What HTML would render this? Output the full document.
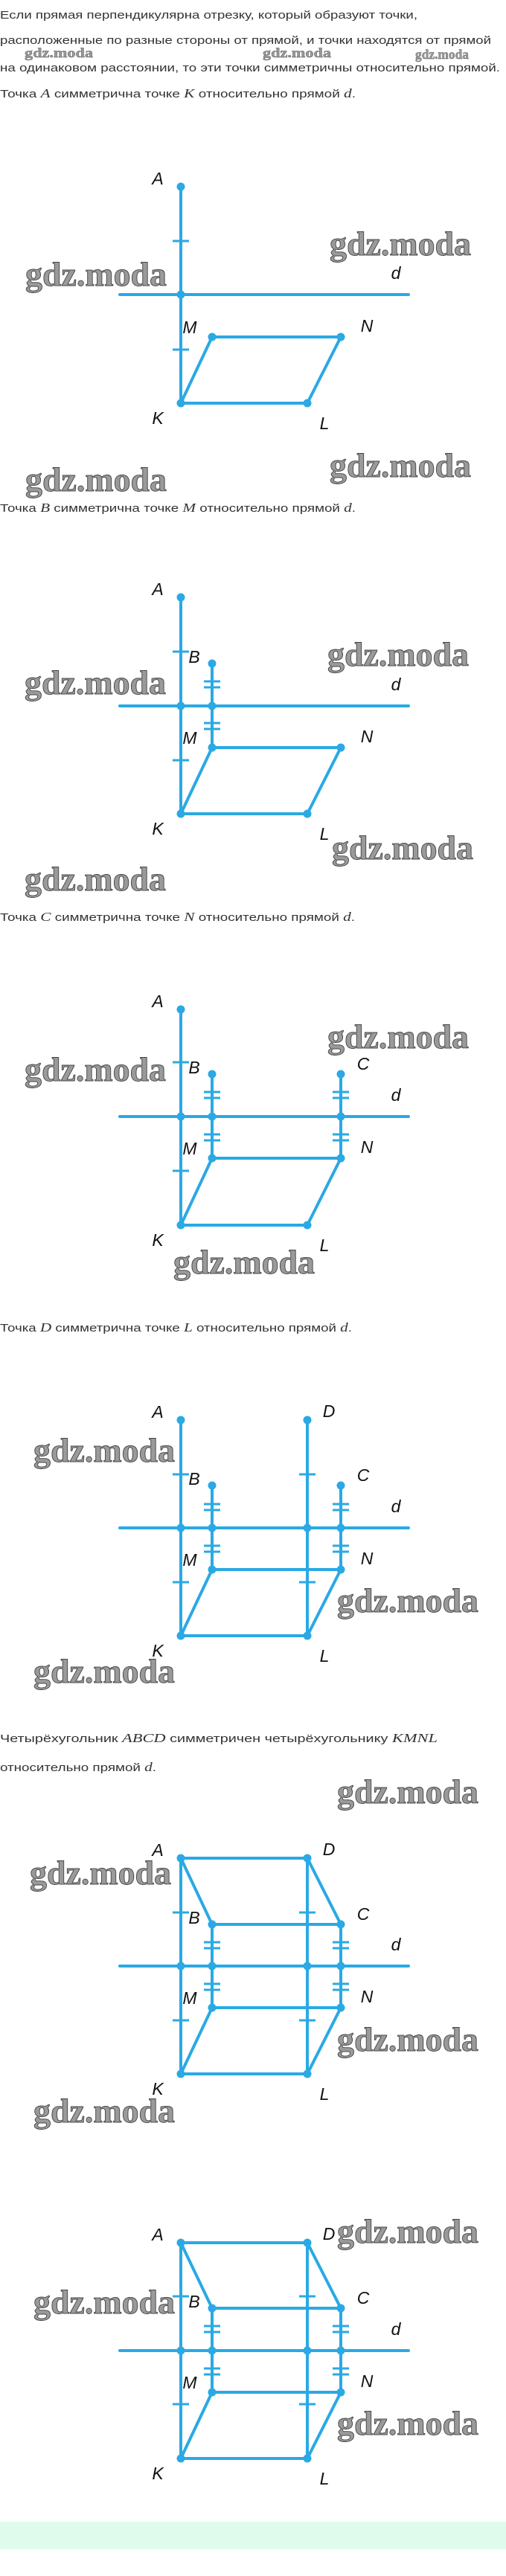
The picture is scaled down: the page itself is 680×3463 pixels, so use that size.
<!DOCTYPE html>
<html><head><meta charset="utf-8"><style>
html,body{margin:0;padding:0;background:#fff;}
svg{display:block}
.t{font-family:"Liberation Sans",sans-serif;font-size:15px;fill:#333}
.m{font-family:"Liberation Serif",serif;font-style:italic;font-size:17px}
.l{font-family:"Liberation Sans",sans-serif;font-style:italic;font-size:23px;fill:#111;text-anchor:middle}
.w{font-family:"Liberation Serif",serif;font-weight:bold;font-size:46px;fill:#9a9a9a;stroke:#444;stroke-width:0.9}
.ws{font-family:"Liberation Serif",serif;font-weight:bold;font-size:18px;fill:#9a9a9a;stroke:#555;stroke-width:0.4}
.s{stroke:#2aa9e4;stroke-width:4;stroke-linecap:round;fill:none}
.k{stroke:#2aa9e4;stroke-width:3;fill:none}
.dot{fill:#2aa9e4}
</style></head><body>
<svg width="680" height="3463" viewBox="0 0 680 3463" xmlns="http://www.w3.org/2000/svg">
<!-- intro text -->
<text class="t" x="0" y="25" textLength="561" lengthAdjust="spacingAndGlyphs">Если прямая перпендикулярна отрезку, который образуют точки,</text>
<text class="t" x="0" y="59" textLength="660" lengthAdjust="spacingAndGlyphs">расположенные по разные стороны от прямой, и точки находятся от прямой</text>
<text class="t" x="0" y="96" textLength="672" lengthAdjust="spacingAndGlyphs">на одинаковом расстоянии, то эти точки симметричны относительно прямой.</text>
<text class="ws" x="33" y="77" textLength="92" lengthAdjust="spacingAndGlyphs">gdz.moda</text>
<text class="ws" x="353" y="77" textLength="92" lengthAdjust="spacingAndGlyphs">gdz.moda</text>
<text class="ws" x="558" y="79" font-size="14" textLength="72" lengthAdjust="spacingAndGlyphs">gdz.moda</text>
<text class="t" x="0" y="131" textLength="478" lengthAdjust="spacingAndGlyphs">Точка <tspan class="m">A</tspan> симметрична точке <tspan class="m">K</tspan> относительно прямой <tspan class="m">d</tspan>.</text>

<!-- Diagram 1 -->
<g>
<line class="s" x1="161" y1="396" x2="549" y2="396"/>
<line class="s" x1="243" y1="251" x2="243" y2="542"/>
<polyline class="s" points="285,453 458,453 413,542 243,542 285,453"/>
<line class="k" x1="232" y1="324" x2="254" y2="324"/><line class="k" x1="232" y1="470" x2="254" y2="470"/>
<circle class="dot" cx="243" cy="251" r="5.5"/><circle class="dot" cx="243" cy="396" r="5.5"/>
<circle class="dot" cx="285" cy="453" r="5.5"/><circle class="dot" cx="458" cy="453" r="5.5"/>
<circle class="dot" cx="243" cy="542" r="5.5"/><circle class="dot" cx="413" cy="542" r="5.5"/>
<text class="l" x="212" y="248">A</text><text class="l" x="532" y="375">d</text>
<text class="l" x="255" y="448">M</text><text class="l" x="493" y="446">N</text>
<text class="l" x="212" y="570">K</text><text class="l" x="436" y="577">L</text>
<text class="w" x="443" y="343" textLength="190" lengthAdjust="spacingAndGlyphs">gdz.moda</text>
<text class="w" x="34" y="384" textLength="190" lengthAdjust="spacingAndGlyphs">gdz.moda</text>
<text class="w" x="443" y="641" textLength="190" lengthAdjust="spacingAndGlyphs">gdz.moda</text>
<text class="w" x="34" y="660" textLength="190" lengthAdjust="spacingAndGlyphs">gdz.moda</text>
</g>
<text class="t" x="0" y="688" textLength="478" lengthAdjust="spacingAndGlyphs">Точка <tspan class="m">B</tspan> симметрична точке <tspan class="m">M</tspan> относительно прямой <tspan class="m">d</tspan>.</text>

<!-- Diagram 2 -->
<g>
<line class="s" x1="161" y1="949" x2="549" y2="949"/>
<line class="s" x1="243" y1="803" x2="243" y2="1094"/>
<line class="s" x1="285" y1="892" x2="285" y2="1005"/>
<polyline class="s" points="285,1005 458,1005 413,1094 243,1094 285,1005"/>
<line class="k" x1="232" y1="876" x2="254" y2="876"/><line class="k" x1="232" y1="1022" x2="254" y2="1022"/>
<line class="k" x1="274" y1="916" x2="296" y2="916"/><line class="k" x1="274" y1="924" x2="296" y2="924"/>
<line class="k" x1="274" y1="972" x2="296" y2="972"/><line class="k" x1="274" y1="980" x2="296" y2="980"/>
<circle class="dot" cx="243" cy="803" r="5.5"/><circle class="dot" cx="285" cy="892" r="5.5"/>
<circle class="dot" cx="243" cy="949" r="5.5"/><circle class="dot" cx="285" cy="949" r="5.5"/>
<circle class="dot" cx="285" cy="1005" r="5.5"/><circle class="dot" cx="458" cy="1005" r="5.5"/>
<circle class="dot" cx="243" cy="1094" r="5.5"/><circle class="dot" cx="413" cy="1094" r="5.5"/>
<text class="l" x="212" y="800">A</text><text class="l" x="261" y="891">B</text><text class="l" x="532" y="928">d</text>
<text class="l" x="255" y="1000">M</text><text class="l" x="493" y="998">N</text>
<text class="l" x="212" y="1122">K</text><text class="l" x="436" y="1129">L</text>
<text class="w" x="440" y="895" textLength="190" lengthAdjust="spacingAndGlyphs">gdz.moda</text>
<text class="w" x="33" y="933" textLength="190" lengthAdjust="spacingAndGlyphs">gdz.moda</text>
<text class="w" x="446" y="1155" textLength="190" lengthAdjust="spacingAndGlyphs">gdz.moda</text>
<text class="w" x="33" y="1197" textLength="190" lengthAdjust="spacingAndGlyphs">gdz.moda</text>
</g>
<text class="t" x="0" y="1238" textLength="477" lengthAdjust="spacingAndGlyphs">Точка <tspan class="m">C</tspan> симметрична точке <tspan class="m">N</tspan> относительно прямой <tspan class="m">d</tspan>.</text>

<!-- Diagram 3 -->
<g>
<line class="s" x1="161" y1="1501" x2="549" y2="1501"/>
<line class="s" x1="243" y1="1357" x2="243" y2="1647"/>
<line class="s" x1="285" y1="1444" x2="285" y2="1557"/>
<line class="s" x1="458" y1="1444" x2="458" y2="1557"/>
<polyline class="s" points="285,1557 458,1557 413,1647 243,1647 285,1557"/>
<line class="k" x1="232" y1="1428" x2="254" y2="1428"/><line class="k" x1="232" y1="1574" x2="254" y2="1574"/>
<line class="k" x1="274" y1="1468" x2="296" y2="1468"/><line class="k" x1="274" y1="1476" x2="296" y2="1476"/>
<line class="k" x1="274" y1="1525" x2="296" y2="1525"/><line class="k" x1="274" y1="1533" x2="296" y2="1533"/>
<line class="k" x1="447" y1="1468" x2="469" y2="1468"/><line class="k" x1="447" y1="1476" x2="469" y2="1476"/>
<line class="k" x1="447" y1="1525" x2="469" y2="1525"/><line class="k" x1="447" y1="1533" x2="469" y2="1533"/>
<circle class="dot" cx="243" cy="1357" r="5.5"/><circle class="dot" cx="285" cy="1444" r="5.5"/><circle class="dot" cx="458" cy="1444" r="5.5"/>
<circle class="dot" cx="243" cy="1501" r="5.5"/><circle class="dot" cx="285" cy="1501" r="5.5"/><circle class="dot" cx="458" cy="1501" r="5.5"/>
<circle class="dot" cx="285" cy="1557" r="5.5"/><circle class="dot" cx="458" cy="1557" r="5.5"/>
<circle class="dot" cx="243" cy="1647" r="5.5"/><circle class="dot" cx="413" cy="1647" r="5.5"/>
<text class="l" x="212" y="1354">A</text><text class="l" x="261" y="1443">B</text><text class="l" x="488" y="1438">C</text><text class="l" x="532" y="1480">d</text>
<text class="l" x="255" y="1552">M</text><text class="l" x="493" y="1550">N</text>
<text class="l" x="212" y="1675">K</text><text class="l" x="436" y="1682">L</text>
<text class="w" x="440" y="1409" textLength="190" lengthAdjust="spacingAndGlyphs">gdz.moda</text>
<text class="w" x="33" y="1453" textLength="190" lengthAdjust="spacingAndGlyphs">gdz.moda</text>
<text class="w" x="233" y="1712" textLength="190" lengthAdjust="spacingAndGlyphs">gdz.moda</text>
</g>
<text class="t" x="0" y="1790" textLength="473" lengthAdjust="spacingAndGlyphs">Точка <tspan class="m">D</tspan> симметрична точке <tspan class="m">L</tspan> относительно прямой <tspan class="m">d</tspan>.</text>

<!-- Diagram 4 -->
<g>
<line class="s" x1="161" y1="2054" x2="549" y2="2054"/>
<line class="s" x1="243" y1="1909" x2="243" y2="2199"/>
<line class="s" x1="413" y1="1909" x2="413" y2="2199"/>
<line class="s" x1="285" y1="1997" x2="285" y2="2110"/>
<line class="s" x1="458" y1="1997" x2="458" y2="2110"/>
<polyline class="s" points="285,2110 458,2110 413,2199 243,2199 285,2110"/>
<line class="k" x1="232" y1="1982" x2="254" y2="1982"/><line class="k" x1="232" y1="2127" x2="254" y2="2127"/>
<line class="k" x1="402" y1="1982" x2="424" y2="1982"/><line class="k" x1="402" y1="2127" x2="424" y2="2127"/>
<line class="k" x1="274" y1="2022" x2="296" y2="2022"/><line class="k" x1="274" y1="2030" x2="296" y2="2030"/>
<line class="k" x1="274" y1="2078" x2="296" y2="2078"/><line class="k" x1="274" y1="2086" x2="296" y2="2086"/>
<line class="k" x1="447" y1="2022" x2="469" y2="2022"/><line class="k" x1="447" y1="2030" x2="469" y2="2030"/>
<line class="k" x1="447" y1="2078" x2="469" y2="2078"/><line class="k" x1="447" y1="2086" x2="469" y2="2086"/>
<circle class="dot" cx="243" cy="1909" r="5.5"/><circle class="dot" cx="413" cy="1909" r="5.5"/>
<circle class="dot" cx="285" cy="1997" r="5.5"/><circle class="dot" cx="458" cy="1997" r="5.5"/>
<circle class="dot" cx="243" cy="2054" r="5.5"/><circle class="dot" cx="285" cy="2054" r="5.5"/><circle class="dot" cx="413" cy="2054" r="5.5"/><circle class="dot" cx="458" cy="2054" r="5.5"/>
<circle class="dot" cx="285" cy="2110" r="5.5"/><circle class="dot" cx="458" cy="2110" r="5.5"/>
<circle class="dot" cx="243" cy="2199" r="5.5"/><circle class="dot" cx="413" cy="2199" r="5.5"/>
<text class="l" x="212" y="1906">A</text><text class="l" x="442" y="1905">D</text><text class="l" x="261" y="1996">B</text><text class="l" x="488" y="1991">C</text><text class="l" x="532" y="2033">d</text>
<text class="l" x="255" y="2105">M</text><text class="l" x="493" y="2103">N</text>
<text class="l" x="212" y="2227">K</text><text class="l" x="436" y="2234">L</text>
<text class="w" x="45" y="1965" textLength="190" lengthAdjust="spacingAndGlyphs">gdz.moda</text>
<text class="w" x="453" y="2167" textLength="190" lengthAdjust="spacingAndGlyphs">gdz.moda</text>
<text class="w" x="45" y="2262" textLength="190" lengthAdjust="spacingAndGlyphs">gdz.moda</text>
</g>
<text class="t" x="0" y="2342" textLength="588" lengthAdjust="spacingAndGlyphs">Четырёхугольник <tspan class="m">ABCD</tspan> симметричен четырёхугольнику <tspan class="m">KMNL</tspan></text>
<text class="t" x="0" y="2381" textLength="210" lengthAdjust="spacingAndGlyphs">относительно прямой <tspan class="m">d</tspan>.</text>
<text class="w" x="453" y="2424" textLength="190" lengthAdjust="spacingAndGlyphs">gdz.moda</text>

<!-- Diagram 5 -->
<g>
<line class="s" x1="161" y1="2643" x2="549" y2="2643"/>
<line class="s" x1="243" y1="2498" x2="243" y2="2788"/>
<line class="s" x1="413" y1="2498" x2="413" y2="2788"/>
<line class="s" x1="285" y1="2587" x2="285" y2="2699"/>
<line class="s" x1="458" y1="2587" x2="458" y2="2699"/>
<polyline class="s" points="285,2699 458,2699 413,2788 243,2788 285,2699"/>
<polyline class="s" points="243,2498 413,2498 458,2587 285,2587 243,2498"/>
<line class="k" x1="232" y1="2571" x2="254" y2="2571"/><line class="k" x1="232" y1="2716" x2="254" y2="2716"/>
<line class="k" x1="402" y1="2571" x2="424" y2="2571"/><line class="k" x1="402" y1="2716" x2="424" y2="2716"/>
<line class="k" x1="274" y1="2611" x2="296" y2="2611"/><line class="k" x1="274" y1="2619" x2="296" y2="2619"/>
<line class="k" x1="274" y1="2667" x2="296" y2="2667"/><line class="k" x1="274" y1="2675" x2="296" y2="2675"/>
<line class="k" x1="447" y1="2611" x2="469" y2="2611"/><line class="k" x1="447" y1="2619" x2="469" y2="2619"/>
<line class="k" x1="447" y1="2667" x2="469" y2="2667"/><line class="k" x1="447" y1="2675" x2="469" y2="2675"/>
<circle class="dot" cx="243" cy="2498" r="5.5"/><circle class="dot" cx="413" cy="2498" r="5.5"/>
<circle class="dot" cx="285" cy="2587" r="5.5"/><circle class="dot" cx="458" cy="2587" r="5.5"/>
<circle class="dot" cx="243" cy="2643" r="5.5"/><circle class="dot" cx="285" cy="2643" r="5.5"/><circle class="dot" cx="413" cy="2643" r="5.5"/><circle class="dot" cx="458" cy="2643" r="5.5"/>
<circle class="dot" cx="285" cy="2699" r="5.5"/><circle class="dot" cx="458" cy="2699" r="5.5"/>
<circle class="dot" cx="243" cy="2788" r="5.5"/><circle class="dot" cx="413" cy="2788" r="5.5"/>
<text class="l" x="212" y="2495">A</text><text class="l" x="442" y="2494">D</text><text class="l" x="261" y="2586">B</text><text class="l" x="488" y="2581">C</text><text class="l" x="532" y="2622">d</text>
<text class="l" x="255" y="2694">M</text><text class="l" x="493" y="2692">N</text>
<text class="l" x="212" y="2816">K</text><text class="l" x="436" y="2823">L</text>
<text class="w" x="40" y="2533" textLength="190" lengthAdjust="spacingAndGlyphs">gdz.moda</text>
<text class="w" x="453" y="2757" textLength="190" lengthAdjust="spacingAndGlyphs">gdz.moda</text>
<text class="w" x="45" y="2853" textLength="190" lengthAdjust="spacingAndGlyphs">gdz.moda</text>
</g>

<!-- Diagram 6 -->
<g>
<line class="s" x1="161" y1="3160" x2="549" y2="3160"/>
<line class="s" x1="243" y1="3015" x2="243" y2="3305"/>
<line class="s" x1="413" y1="3015" x2="413" y2="3305"/>
<line class="s" x1="285" y1="3103" x2="285" y2="3216"/>
<line class="s" x1="458" y1="3103" x2="458" y2="3216"/>
<polyline class="s" points="285,3216 458,3216 413,3305 243,3305 285,3216"/>
<polyline class="s" points="243,3015 413,3015 458,3103 285,3103 243,3015"/>
<line class="k" x1="232" y1="3087" x2="254" y2="3087"/><line class="k" x1="232" y1="3232" x2="254" y2="3232"/>
<line class="k" x1="402" y1="3087" x2="424" y2="3087"/><line class="k" x1="402" y1="3232" x2="424" y2="3232"/>
<line class="k" x1="274" y1="3127" x2="296" y2="3127"/><line class="k" x1="274" y1="3135" x2="296" y2="3135"/>
<line class="k" x1="274" y1="3184" x2="296" y2="3184"/><line class="k" x1="274" y1="3192" x2="296" y2="3192"/>
<line class="k" x1="447" y1="3127" x2="469" y2="3127"/><line class="k" x1="447" y1="3135" x2="469" y2="3135"/>
<line class="k" x1="447" y1="3184" x2="469" y2="3184"/><line class="k" x1="447" y1="3192" x2="469" y2="3192"/>
<circle class="dot" cx="243" cy="3015" r="5.5"/><circle class="dot" cx="413" cy="3015" r="5.5"/>
<circle class="dot" cx="285" cy="3103" r="5.5"/><circle class="dot" cx="458" cy="3103" r="5.5"/>
<circle class="dot" cx="243" cy="3160" r="5.5"/><circle class="dot" cx="285" cy="3160" r="5.5"/><circle class="dot" cx="413" cy="3160" r="5.5"/><circle class="dot" cx="458" cy="3160" r="5.5"/>
<circle class="dot" cx="285" cy="3216" r="5.5"/><circle class="dot" cx="458" cy="3216" r="5.5"/>
<circle class="dot" cx="243" cy="3305" r="5.5"/><circle class="dot" cx="413" cy="3305" r="5.5"/>
<text class="l" x="212" y="3012">A</text><text class="l" x="442" y="3011">D</text><text class="l" x="261" y="3102">B</text><text class="l" x="488" y="3097">C</text><text class="l" x="532" y="3139">d</text>
<text class="l" x="255" y="3211">M</text><text class="l" x="493" y="3209">N</text>
<text class="l" x="212" y="3333">K</text><text class="l" x="436" y="3340">L</text>
<text class="w" x="453" y="3015" textLength="190" lengthAdjust="spacingAndGlyphs">gdz.moda</text>
<text class="w" x="45" y="3110" textLength="190" lengthAdjust="spacingAndGlyphs">gdz.moda</text>
<text class="w" x="453" y="3273" textLength="190" lengthAdjust="spacingAndGlyphs">gdz.moda</text>
</g>
<rect x="0" y="3390" width="680" height="37" fill="#dffbec"/>
</svg>
</body></html>
